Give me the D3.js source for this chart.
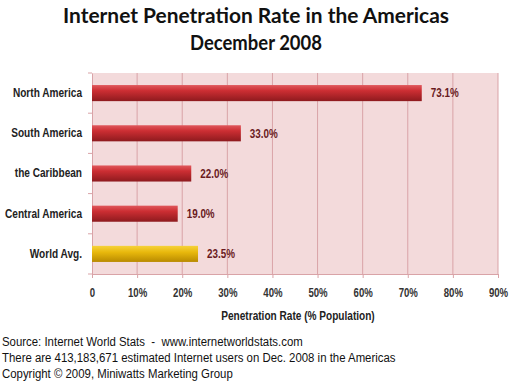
<!DOCTYPE html>
<html><head><meta charset="utf-8">
<script src="https://cdn.jsdelivr.net/npm/d3@7"></script>
<style>
body{margin:0;background:#fff;}
svg{display:block;}
</style></head>
<body>
<svg id="chart" width="512" height="384"></svg>
<script>
const categories = ["North America","South America","the Caribbean","Central America","World Avg."];
const values = [73.1, 33.0, 22.0, 19.0, 23.5];
const valueLabels = ["73.1%","33.0%","22.0%","19.0%","23.5%"];
const tickValues = [0,10,20,30,40,50,60,70,80,90];
const tickLabels = ["0","10%","20%","30%","40%","50%","60%","70%","80%","90%"];
const footLines = [
  "Source: Internet World Stats\u00A0 - \u00A0www.internetworldstats.com",
  "There are 413,183,671 estimated Internet users on Dec. 2008 in the Americas",
  "Copyright \u00A9 2009, Miniwatts Marketing Group"
];

const svg = d3.select("#chart");
const m = {left:92, right:498, top:73, bottom:274};
const x = d3.scaleLinear().domain([0,90]).range([m.left, m.right]);
const y = d3.scaleBand().domain(categories).range([m.top, m.bottom]).paddingInner(0.6).paddingOuter(0.3);
const boldFont = "'Liberation Sans',Arial,sans-serif";

// condense helper: squeeze text horizontally by factor k
function condense(sel, k){
  sel.each(function(){
    const w = this.getComputedTextLength();
    d3.select(this).attr("textLength", w*k).attr("lengthAdjust","spacingAndGlyphs");
  });
}

const defs = svg.append("defs");
const gr = defs.append("linearGradient").attr("id","gRed").attr("x1",0).attr("y1",0).attr("x2",0).attr("y2",1);
gr.append("stop").attr("offset","0%").attr("stop-color","#e0585c");
gr.append("stop").attr("offset","35%").attr("stop-color","#cc2e33");
gr.append("stop").attr("offset","100%").attr("stop-color","#8e1a1e");
const gg = defs.append("linearGradient").attr("id","gGold").attr("x1",0).attr("y1",0).attr("x2",0).attr("y2",1);
gg.append("stop").attr("offset","0%").attr("stop-color","#f6d23a");
gg.append("stop").attr("offset","40%").attr("stop-color","#e8b80c");
gg.append("stop").attr("offset","100%").attr("stop-color","#b98a00");

// title
svg.append("text").attr("x",256).attr("y",23).attr("text-anchor","middle")
  .attr("font-family","Lato,'Open Sans',sans-serif").attr("font-weight","bold").attr("font-size",20)
  .attr("textLength",386).attr("lengthAdjust","spacingAndGlyphs")
  .attr("fill","#111").text("Internet Penetration Rate in the Americas");
svg.append("text").attr("x",256).attr("y",50).attr("text-anchor","middle")
  .attr("font-family","Lato,'Open Sans',sans-serif").attr("font-weight","bold").attr("font-size",20)
  .attr("textLength",132).attr("lengthAdjust","spacingAndGlyphs")
  .attr("fill","#111").text("December 2008");

// plot background
svg.append("rect").attr("x",m.left).attr("y",m.top).attr("width",m.right-m.left).attr("height",m.bottom-m.top)
  .attr("fill","#f3dadb");

// gridlines
svg.append("g").selectAll("line").data(tickValues.slice(1)).join("line")
  .attr("x1",d=>x(d)).attr("x2",d=>x(d)).attr("y1",m.top).attr("y2",m.bottom)
  .attr("stroke","#d9a3a7").attr("stroke-width",1);

// x axis
const xAxis = d3.axisBottom(x).tickValues(tickValues).tickFormat((d,i)=>tickLabels[i]).tickSize(4).tickPadding(10);
const gx = svg.append("g").attr("transform",`translate(0,${m.bottom})`).call(xAxis);
gx.select(".domain").attr("stroke","#d9a3a7");
gx.selectAll(".tick line").attr("stroke","#d9a3a7");
gx.selectAll("text").attr("font-family",boldFont).attr("font-weight","bold").attr("font-size",12).attr("fill","#333")
  .call(condense,0.8);

// y axis
const yAxis = d3.axisLeft(y).tickSize(0).tickPadding(10);
const gy = svg.append("g").attr("transform",`translate(${m.left},0)`).call(yAxis);
gy.select(".domain").attr("stroke","#d9a3a7");
gy.selectAll("text").attr("font-family",boldFont).attr("font-weight","bold").attr("font-size",12).attr("fill","#222")
  .call(condense,0.84);
// category separator ticks
const step = y.step();
const seps = categories.map((c,i)=> i===0 ? m.top : y(c) - (step - y.bandwidth())/2).concat([m.bottom]);
svg.append("g").selectAll("line").data(seps).join("line")
  .attr("x1",m.left-4).attr("x2",m.left).attr("y1",d=>d).attr("y2",d=>d).attr("stroke","#d9a3a7");

// bars
svg.append("g").selectAll("rect").data(categories).join("rect")
  .attr("x",x(0)).attr("y",d=>y(d)).attr("height",y.bandwidth())
  .attr("width",(d,i)=>x(values[i])-x(0))
  .attr("fill",(d,i)=> i===4 ? "url(#gGold)" : "url(#gRed)");

// value labels
svg.append("g").selectAll("text").data(categories).join("text")
  .attr("x",(d,i)=>x(values[i])+9).attr("y",d=>y(d)+y.bandwidth()/2).attr("dy","0.35em")
  .attr("font-family",boldFont).attr("font-weight","bold").attr("font-size",12).attr("fill","#6a1a1e")
  .text((d,i)=>valueLabels[i])
  .call(condense,0.82);

// axis title
svg.append("text").attr("x",298).attr("y",320).attr("text-anchor","middle")
  .attr("font-family",boldFont).attr("font-weight","bold").attr("font-size",12).attr("fill","#222")
  .text("Penetration Rate (% Population)")
  .call(condense,0.84);

// footnotes
svg.append("g").selectAll("text").data(footLines).join("text")
  .attr("x",2).attr("y",(d,i)=>346+i*16)
  .attr("font-family","'Liberation Sans',Arial,sans-serif").attr("font-size",12).attr("fill","#111")
  .text(d=>d)
  .call(condense,0.95);
</script>
</body></html>
